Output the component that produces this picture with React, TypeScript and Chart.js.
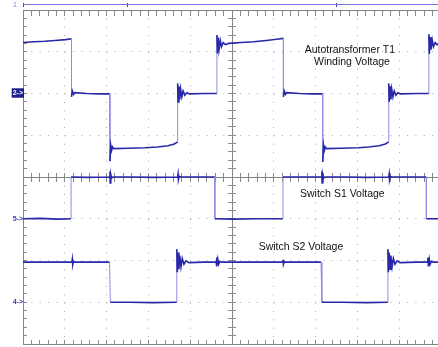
import React, { useEffect, useRef } from "react";
import { Chart, registerables } from "chart.js";

Chart.register(...registerables);

// Time in screen divisions (10 across), amplitude in screen divisions (8 high)
const ch2Trace: [number, number][] = [
  [0, 7.22], [0.27, 7.24], [0.52, 7.25], [0.77, 7.27], [1.02, 7.29], [1.16, 7.31],
  [1.16, 5.92], [1.18, 6.06], [1.21, 5.98], [1.24, 6.02], [1.52, 6.0], [1.82, 5.99], [2.08, 5.99],
  [2.08, 4.38], [2.1, 4.76], [2.12, 4.64], [2.14, 4.72], [2.17, 4.68], [2.52, 4.69], [2.92, 4.7], [3.22, 4.72], [3.47, 4.75], [3.62, 4.79], [3.7, 4.84],
  [3.7, 6.24], [3.71, 5.8], [3.73, 6.17], [3.75, 5.86], [3.77, 6.11], [3.8, 5.92], [3.83, 6.06], [3.87, 5.96], [3.92, 6.02], [3.98, 5.99], [4.32, 6.0], [4.64, 6.0],
  [4.64, 7.4], [4.65, 6.96], [4.67, 7.34], [4.69, 7.05], [4.72, 7.27], [4.75, 7.12], [4.79, 7.22], [4.84, 7.17], [4.92, 7.2], [5.22, 7.22], [5.52, 7.24], [5.82, 7.27], [6.07, 7.3], [6.23, 7.32],
  [6.23, 5.92], [6.25, 6.06], [6.28, 5.98], [6.31, 6.02], [6.62, 6.0], [6.92, 5.99], [7.17, 5.99],
  [7.17, 4.36], [7.19, 4.76], [7.21, 4.64], [7.23, 4.72], [7.26, 4.68], [7.62, 4.69], [8.02, 4.7], [8.27, 4.72], [8.52, 4.75], [8.67, 4.79], [8.75, 4.84],
  [8.75, 6.24], [8.76, 5.8], [8.78, 6.17], [8.8, 5.86], [8.82, 6.11], [8.85, 5.92], [8.88, 6.06], [8.92, 5.96], [8.97, 6.02], [9.03, 5.99], [9.42, 6.0], [9.71, 6.0],
  [9.71, 7.42], [9.72, 6.95], [9.74, 7.35], [9.76, 7.05], [9.79, 7.28], [9.82, 7.12], [9.86, 7.22], [9.91, 7.17], [9.97, 7.2], [10, 7.2],
];

const ch5Trace: [number, number][] = [
  [0, 3.0], [0.42, 3.01], [0.82, 2.99], [1.15, 3.0],
  [1.15, 4.0], [1.52, 3.99], [2.07, 4.0],
  [2.08, 4.13], [2.085, 3.86], [2.1, 4.06], [2.12, 3.97], [2.15, 4.0], [2.62, 4.0], [3.12, 3.99], [3.7, 4.0],
  [3.71, 4.07], [3.72, 3.94], [3.74, 4.02], [3.77, 4.0], [4.22, 4.0], [4.59, 4.0],
  [4.59, 3.0], [5.02, 2.99], [5.62, 3.0], [6.22, 3.0],
  [6.22, 4.0], [6.72, 4.0], [7.14, 4.0],
  [7.15, 4.13], [7.155, 3.86], [7.17, 4.06], [7.19, 3.97], [7.22, 4.0], [7.72, 4.0], [8.22, 3.99], [8.75, 4.0],
  [8.76, 4.07], [8.77, 3.94], [8.79, 4.02], [8.82, 4.0], [9.22, 4.0], [9.65, 4.0],
  [9.65, 3.0], [10, 3.0],
];

const ch4Trace: [number, number][] = [
  [0, 1.96], [0.62, 1.96], [1.17, 1.96],
  [1.18, 2.03], [1.19, 1.9], [1.21, 1.98], [1.24, 1.96], [1.72, 1.96], [2.07, 1.96],
  [2.09, 1.0], [2.52, 1.0], [3.12, 0.99], [3.68, 1.0],
  [3.68, 2.27], [3.69, 1.72], [3.71, 2.19], [3.73, 1.79], [3.75, 2.12], [3.78, 1.85], [3.81, 2.05], [3.85, 1.91], [3.9, 1.99], [3.97, 1.95], [4.32, 1.96], [4.62, 1.96],
  [4.63, 2.07], [4.64, 1.86], [4.66, 2.03], [4.68, 1.91], [4.71, 1.98], [4.75, 1.96], [5.32, 1.96], [6.21, 1.96],
  [6.22, 2.02], [6.23, 1.91], [6.25, 1.98], [6.28, 1.96], [6.72, 1.96], [7.13, 1.96],
  [7.15, 1.0], [7.62, 1.0], [8.22, 0.99], [8.73, 1.0],
  [8.73, 2.27], [8.74, 1.72], [8.76, 2.19], [8.78, 1.79], [8.8, 2.12], [8.83, 1.85], [8.86, 2.05], [8.9, 1.91], [8.95, 1.99], [9.02, 1.95], [9.42, 1.96], [9.68, 1.96],
  [9.69, 2.07], [9.7, 1.86], [9.72, 2.03], [9.74, 1.91], [9.77, 1.98], [9.81, 1.96], [10, 1.96],
];

// Channel reference markers on the left edge
const markerLevels = [1, 3, 6];
const markerLabels = ["4->", "5->", "2->"];

// Trigger / time reference marks on the top bar
const triggerMarks = [0, 2.5, 7.5];

// Text annotations
const noteTexts = ["Autotransformer T1", "Winding Voltage", "Switch S1 Voltage", "Switch S2 Voltage"];
const noteAnchors = [[7.82, 7.04], [7.87, 6.74], [7.64, 3.58], [6.65, 2.31]];

const TRACE = "#2828a8";
const EDGE = "#8e8ee2";
const BORDER = "#858585";
const TICK = "#8a8a8a";
const DOTS = "#a9a9a9";
const BAR = "#7474d8";
const FONT = "Arial, 'Liberation Sans', sans-serif";

export default function App() {
  const ref = useRef<HTMLCanvasElement>(null);

  useEffect(() => {
    const canvas = ref.current;
    if (!canvas) return;

    const isEdge = (c: any) =>
      Math.abs(c.p1.parsed.x - c.p0.parsed.x) < 0.025 &&
      Math.abs(c.p1.parsed.y - c.p0.parsed.y) > 0.7;

    const trace = (label: string, data: [number, number][]) => ({
      label,
      data: data.map(([x, y]) => ({ x, y })),
      showLine: true,
      pointRadius: 0,
      borderColor: TRACE,
      borderWidth: 1.6,
      segment: {
        borderColor: (c: any) => (isEdge(c) ? EDGE : TRACE),
        borderWidth: (c: any) => (isEdge(c) ? 1 : 1.6),
      },
    });

    const tickAxis = (axis: "x" | "y", position: any, len: number, step: number, border = false, color = TICK) => ({
      type: "linear",
      axis,
      position,
      min: 0,
      max: axis === "x" ? 10 : 8,
      ticks: { display: false, stepSize: step, includeBounds: false },
      grid: { display: true, drawOnChartArea: false, drawTicks: true, tickLength: len, color, lineWidth: 1 },
      border: { display: border, color: BORDER, width: 1 },
    });

    const notesPlugin = {
      id: "scopeNotes",
      afterDraw(chart: any) {
        const { ctx } = chart;
        const xs = chart.scales.x;
        const ys = chart.scales.y;
        ctx.save();
        ctx.textAlign = "center";
        ctx.textBaseline = "middle";
        ctx.fillStyle = "#111";
        ctx.font = `10.5px ${FONT}`;
        noteTexts.forEach((t, i) => {
          ctx.fillText(t, xs.getPixelForValue(noteAnchors[i][0]), ys.getPixelForValue(noteAnchors[i][1]));
        });
        ctx.fillStyle = "#6f8ee0";
        ctx.font = `7px ${FONT}`;
        ctx.fillText("1", xs.getPixelForValue(-0.19), ys.getPixelForValue(8.12));
        ctx.restore();
      },
    };

    const chart = new Chart(canvas, {
      type: "scatter",
      data: {
        datasets: [
          trace("Autotransformer T1 Winding Voltage", ch2Trace),
          trace("Switch S1 Voltage", ch5Trace),
          trace("Switch S2 Voltage", ch4Trace),
        ],
      },
      options: {
        responsive: false,
        animation: false,
        devicePixelRatio: 1,
        layout: { padding: { left: 23, top: 10, right: 0, bottom: 3 } },
        plugins: { legend: { display: false }, tooltip: { enabled: false } },
        events: [],
        scales: {
          x: {
            type: "linear",
            axis: "x",
            position: { y: 0 },
            min: 0,
            max: 10,
            ticks: { display: false, stepSize: 1 },
            grid: { display: true, drawOnChartArea: true, drawTicks: false, color: DOTS, lineWidth: 1 },
            border: { display: true, color: BORDER, width: 1, dash: [1, 7.36] },
          },
          y: {
            type: "linear",
            axis: "y",
            position: { x: 0 },
            min: 0,
            max: 8,
            ticks: { display: false, stepSize: 1 },
            grid: { display: true, drawOnChartArea: true, drawTicks: false, color: DOTS, lineWidth: 1 },
            border: { display: true, color: BORDER, width: 1, dash: [1, 7.35] },
          },
          xTop: tickAxis("x", { y: 8 }, 5, 0.2, true),
          xBot: tickAxis("x", { y: 0 }, -4, 0.2),
          xMid: tickAxis("x", { y: 4 }, 4, 0.2, true),
          xMid2: tickAxis("x", { y: 4 }, -4, 0.2),
          yLeft: tickAxis("y", { x: 0 }, -4, 0.2),
          yMid: tickAxis("y", { x: 5 }, 4, 0.2, true),
          yMid2: tickAxis("y", { x: 5 }, -4, 0.2),
          xBar: {
            type: "linear",
            axis: "x",
            position: { y: 8.12 },
            min: 0,
            max: 10,
            afterBuildTicks: (s: any) => {
              s.ticks = triggerMarks.map((v) => ({ value: v }));
            },
            ticks: { display: false },
            grid: { display: true, drawOnChartArea: false, drawTicks: true, tickLength: 2, color: "#3c3ca8", lineWidth: 1 },
            border: { display: true, color: BAR, width: 1 },
          },
          xBar2: {
            type: "linear",
            axis: "x",
            position: { y: 8.12 },
            min: 0,
            max: 10,
            afterBuildTicks: (s: any) => {
              s.ticks = triggerMarks.map((v) => ({ value: v }));
            },
            ticks: { display: false },
            grid: { display: true, drawOnChartArea: false, drawTicks: true, tickLength: -2, color: "#3c3ca8", lineWidth: 1 },
            border: { display: false },
          },
          yMarks: {
            type: "linear",
            axis: "y",
            position: { x: 0 },
            min: 0,
            max: 8,
            afterBuildTicks: (s: any) => {
              s.ticks = markerLevels.map((v) => ({ value: v }));
            },
            afterFit: (s: any) => {
              s.paddingTop = 0;
              s.paddingBottom = 0;
              s.paddingLeft = 0;
              s.paddingRight = 0;
            },
            ticks: {
              display: true,
              autoSkip: false,
              padding: 0,
              callback: (_v: any, i: number) => markerLabels[i],
              font: { size: 7, family: FONT, weight: "bold" },
              color: (c: any) => (c.tick && c.tick.value === 6 ? "#ffffff" : "#3b3bc4"),
              showLabelBackdrop: true,
              backdropColor: (c: any) => (c.tick && c.tick.value === 6 ? "#1c1c8c" : "rgba(0,0,0,0)"),
              backdropPadding: { top: 1, bottom: 0, left: 1, right: 1 },
            },
            grid: { display: false, drawTicks: false },
            border: { display: false },
          },
        },
      } as any,
      plugins: [notesPlugin],
    });

    return () => chart.destroy();
  }, []);

  return (
    <div style={{ position: "absolute", left: 0, top: 0, width: 438, height: 347, overflow: "hidden", background: "#fff" }}>
      <canvas ref={ref} width={441} height={347} style={{ width: 441, height: 347, display: "block" }} />
    </div>
  );
}
